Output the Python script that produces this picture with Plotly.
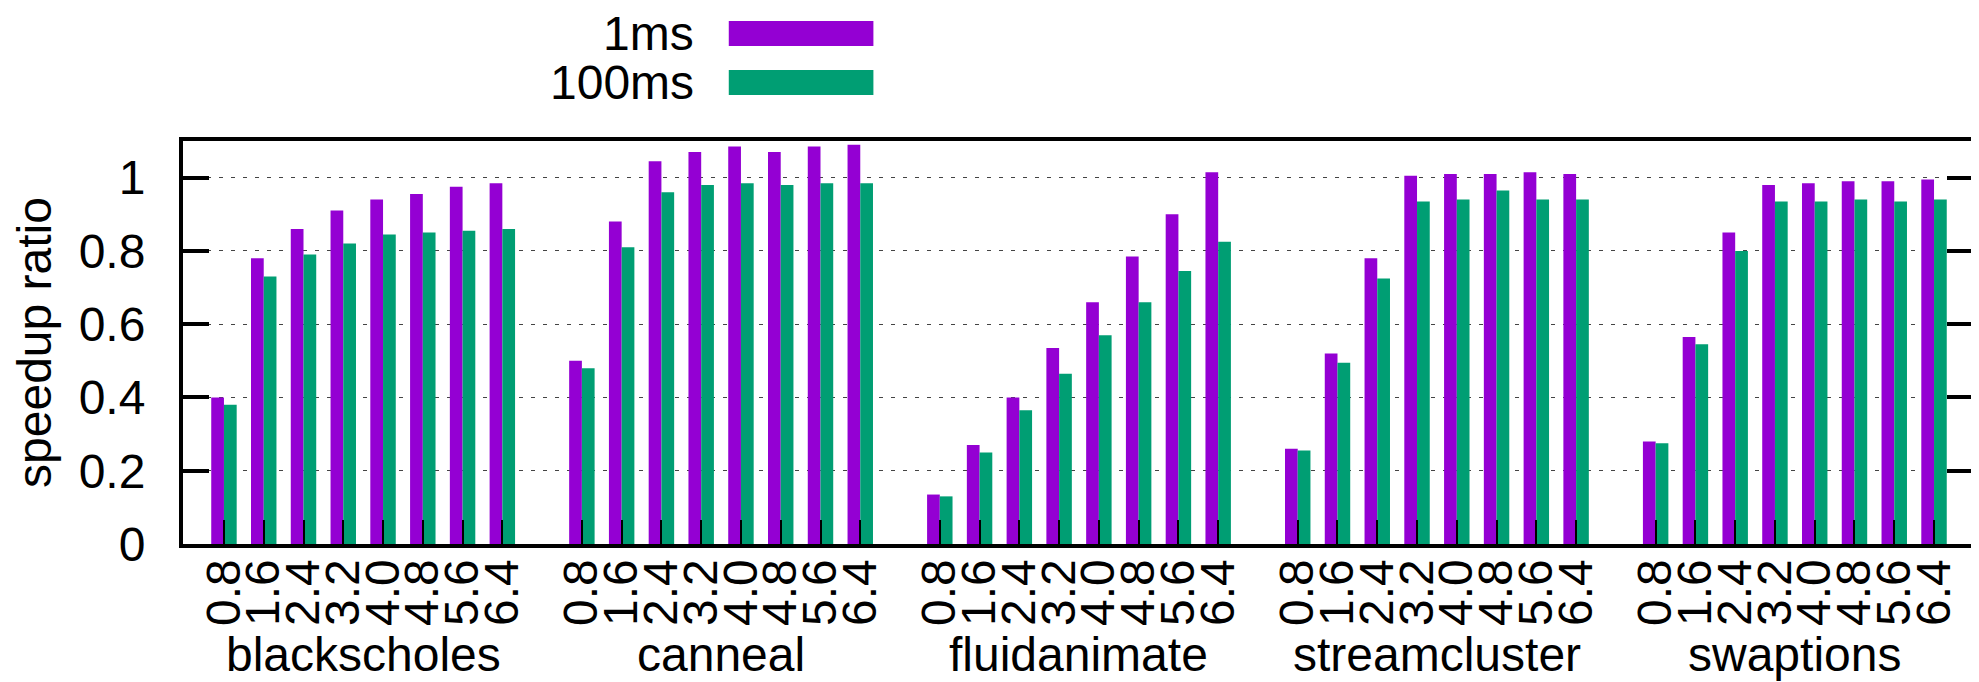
import plotly.graph_objects as go

settings = ["0.8", "1.6", "2.4", "3.2", "4.0", "4.8", "5.6", "6.4"]
benchmarks = ["blackscholes", "canneal", "fluidanimate", "streamcluster", "swaptions"]
series_names = ["1ms", "100ms"]

ms1 = {
    "blackscholes": [0.40, 0.78, 0.86, 0.91, 0.94, 0.955, 0.975, 0.985],
    "canneal": [0.50, 0.88, 1.045, 1.07, 1.085, 1.07, 1.085, 1.09],
    "fluidanimate": [0.135, 0.27, 0.40, 0.535, 0.66, 0.785, 0.90, 1.015],
    "streamcluster": [0.26, 0.52, 0.78, 1.005, 1.01, 1.01, 1.015, 1.01],
    "swaptions": [0.28, 0.565, 0.85, 0.98, 0.985, 0.99, 0.99, 0.995],
}
ms100 = {
    "blackscholes": [0.38, 0.73, 0.79, 0.82, 0.845, 0.85, 0.855, 0.86],
    "canneal": [0.48, 0.81, 0.96, 0.98, 0.985, 0.98, 0.985, 0.985],
    "fluidanimate": [0.13, 0.25, 0.365, 0.465, 0.57, 0.66, 0.745, 0.825],
    "streamcluster": [0.255, 0.495, 0.725, 0.935, 0.94, 0.965, 0.94, 0.94],
    "swaptions": [0.275, 0.545, 0.80, 0.935, 0.935, 0.94, 0.935, 0.94],
}

colors = ["#9400D3", "#009E73"]
FONT = "Liberation Sans, Arial, Helvetica, sans-serif"
FS = 48

# slot positions: each benchmark group has 8 clusters, one empty slot between groups
xs, tick_text, v1, v2 = [], [], [], []
group_centers = []
for g, b in enumerate(benchmarks):
    base = g * (len(settings) + 1)
    for i, s in enumerate(settings):
        xs.append(base + i)
        tick_text.append(s)
        v1.append(ms1[b][i])
        v2.append(ms100[b][i])
    group_centers.append(base + (len(settings) - 1) / 2)

W = 0.32
fig = go.Figure()
fig.add_trace(go.Bar(x=xs, y=v1, name=series_names[0], width=W, offset=-W,
                     marker=dict(color=colors[0], line=dict(width=0))))
fig.add_trace(go.Bar(x=xs, y=v2, name=series_names[1], width=W, offset=0,
                     marker=dict(color=colors[1], line=dict(width=0))))

fig.update_layout(
    width=1979, height=682,
    margin=dict(l=175, r=10, t=133, b=146),
    plot_bgcolor="white", paper_bgcolor="white",
    barmode="overlay", showlegend=False,
    font=dict(family=FONT, size=FS, color="black"),
)
fig.update_xaxes(
    range=[-1.03, 43.98], tickmode="array", tickvals=xs, ticktext=tick_text,
    tickangle=-90, ticks="inside", ticklen=24, tickwidth=1.5, tickcolor="black",
    showline=True, linewidth=4, linecolor="black", mirror=True,
    showgrid=False, zeroline=False, ticklabelstandoff=-8,
    tickfont=dict(family=FONT, size=FS),
)
fig.update_yaxes(
    range=[0, 1.1], tickmode="array", tickvals=[0, 0.2, 0.4, 0.6, 0.8, 1.0],
    ticktext=["0", "0.2", "0.4", "0.6", "0.8", "1"],
    ticks="inside", ticklen=26, tickwidth=4, tickcolor="black",
    showline=True, linewidth=4, linecolor="black", mirror="ticks",
    showgrid=True, gridcolor="#444444", gridwidth=1.2, griddash="4px,8px",
    zeroline=False, ticklabelstandoff=24,
    title=dict(text="speedup ratio", font=dict(family=FONT, size=FS), standoff=18),
    tickfont=dict(family=FONT, size=FS),
)

# group labels
for c, b in zip(group_centers, benchmarks):
    fig.add_annotation(x=c, xref="x", y=-0.2754, yref="paper", text=b,
                       showarrow=False, xanchor="center", yanchor="middle",
                       font=dict(family=FONT, size=FS))

# gnuplot-style key: text on the left, wide swatch on the right
key_rows = [(1.2357, 1.2978), (1.1141, 1.1762)]
for name, col, (y0, y1) in zip(series_names, colors, key_rows):
    fig.add_shape(type="rect", xref="paper", yref="paper",
                  x0=0.3049, x1=0.3857, y0=y0, y1=y1,
                  fillcolor=col, line=dict(width=0))
    fig.add_annotation(x=0.2865, xref="paper", y=(y0 + y1) / 2, yref="paper",
                       text=name, showarrow=False, xanchor="right", yanchor="middle",
                       font=dict(family=FONT, size=FS))

fig.write_html("out.html")
